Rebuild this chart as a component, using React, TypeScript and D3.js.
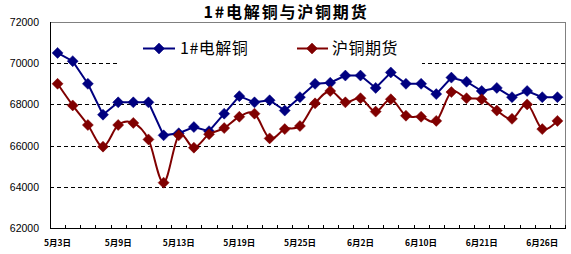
import React from "react";
import * as d3 from "d3";

const categories: string[] = [
  "5月3日", "5月4日", "5月5日", "5月8日", "5月9日", "5月10日", "5月11日", "5月12日",
  "5月13日", "5月15日", "5月16日", "5月17日", "5月19日", "5月22日", "5月23日", "5月24日",
  "5月25日", "5月26日", "5月31日", "6月1日", "6月2日", "6月5日", "6月6日", "6月7日",
  "6月10日", "6月13日", "6月14日", "6月15日", "6月21日", "6月22日", "6月23日", "6月24日",
  "6月26日", "6月27日",
];
const tickLabelIdx: number[] = [0, 4, 8, 12, 16, 20, 24, 28, 32];

const spotCopper: number[] = [
  70500, 70100, 69000, 67500, 68100, 68100, 68100, 66500, 66600, 66900,
  66700, 67550, 68400, 68100, 68200, 67700, 68350, 69000, 69050, 69400,
  69400, 68800, 69550, 69000, 69000, 68500, 69300, 69100, 68650, 68800,
  68350, 68650, 68350, 68350,
];
const futuresCopper: number[] = [
  69000, 67950, 67000, 65950, 67000, 67100, 66300, 64200, 66500, 65900,
  66550, 66850, 67400, 67550, 66350, 66800, 66950, 68050, 68650, 68100,
  68300, 67650, 68250, 67450, 67400, 67200, 68600, 68300, 68250, 67700,
  67300, 68000, 66800, 67200,
];
const yTicks: number[] = [62000, 64000, 66000, 68000, 70000, 72000];
const seriesNames: string[] = ["1#电解铜", "沪铜期货"];

const W = 571, H = 254;
const L = 50, R = 565, T = 22, B = 228;
const BLUE = "#000080";
const RED = "#800000";

function Diamond({ x, y, color }: { x: number; y: number; color: string }) {
  const s = 5.5;
  return (
    <path d={`M${x},${y - s}L${x + s},${y}L${x},${y + s}L${x - s},${y}Z`} fill={color} stroke={color} strokeWidth={0.5} />
  );
}

export default function App() {
  const x = d3.scaleBand<number>().domain(d3.range(categories.length)).range([L, R]).padding(0);
  const y = d3.scaleLinear().domain([62000, 72000]).range([B, T]);
  const cx = (i: number) => (x(i) as number) + x.bandwidth() / 2;

  const lineBlue = d3.line<number>().x((_, i) => cx(i)).y((d) => y(d));
  const lineRed = d3.line<number>().x((_, i) => cx(i)).y((d) => y(d)).curve(d3.curveCardinal.tension(0));

  const legendBox = { x0: 117, x1: 422, y0: 32, y1: 67 };

  return (
    <svg width={W} height={H} style={{ position: "absolute", left: 0, top: 0, background: "#fff" }}
      fontFamily="'Liberation Sans', Arial, sans-serif">
      <rect x={0} y={0} width={W} height={H} fill="#fff" />
      {/* title */}
      <text x={286} y={18} textAnchor="middle" fontSize={16} fontWeight="bold" letterSpacing={1.8}
        fontFamily="'Noto Sans CJK SC', sans-serif">1#电解铜与沪铜期货</text>

      {/* gridlines */}
      {yTicks.filter((t) => t > 62000 && t < 72000).map((t) => (
        <line key={t} x1={L} x2={R} y1={Math.round(y(t)) + 0.5} y2={Math.round(y(t)) + 0.5}
          stroke="#000" strokeWidth={1} strokeDasharray="4,3" />
      ))}

      {/* plot border top/right */}
      <line x1={L} x2={R} y1={T + 0.5} y2={T + 0.5} stroke="#808080" strokeWidth={1} />
      <line x1={R + 0.5} x2={R + 0.5} y1={T} y2={B} stroke="#808080" strokeWidth={1} />

      {/* legend box (hides gridline) */}
      <rect x={legendBox.x0} y={legendBox.y0} width={legendBox.x1 - legendBox.x0} height={legendBox.y1 - legendBox.y0} fill="#fff" />

      {/* axes */}
      <line x1={L + 0.5} x2={L + 0.5} y1={T} y2={B + 0.5} stroke="#000" strokeWidth={1} />
      <line x1={L} x2={R + 1} y1={B + 0.5} y2={B + 0.5} stroke="#000" strokeWidth={1} />
      {d3.range(categories.length + 1).map((k) => {
        const xx = Math.round(L + k * x.bandwidth()) + 0.5;
        return <line key={k} x1={xx} x2={xx} y1={B - 3} y2={B} stroke="#000" strokeWidth={1} />;
      })}

      {/* y labels */}
      {yTicks.map((t) => (
        <text key={t} x={39} y={y(t) + 4} textAnchor="end" fontSize={10.5} fill="#000">{t}</text>
      ))}

      {/* x labels */}
      {tickLabelIdx.map((i) => (
        <text key={i} x={cx(i)} y={246} textAnchor="middle" fontSize={8.5} fontWeight="bold"
          fontFamily="'Noto Sans CJK SC', sans-serif">{categories[i]}</text>
      ))}

      {/* series */}
      <path d={lineBlue(spotCopper) || ""} fill="none" stroke={BLUE} strokeWidth={2} />
      {spotCopper.map((v, i) => <Diamond key={"b" + i} x={cx(i)} y={y(v)} color={BLUE} />)}
      <path d={lineRed(futuresCopper) || ""} fill="none" stroke={RED} strokeWidth={2} />
      {futuresCopper.map((v, i) => <Diamond key={"r" + i} x={cx(i)} y={y(v)} color={RED} />)}

      {/* legend */}
      <line x1={143} x2={175} y1={48.5} y2={48.5} stroke={BLUE} strokeWidth={2} />
      <Diamond x={159} y={48.5} color={BLUE} />
      <text x={180} y={54} fontSize={16} letterSpacing={0.5} fontFamily="'Noto Sans CJK SC', sans-serif">{seriesNames[0]}</text>
      <line x1={297} x2={328} y1={48.5} y2={48.5} stroke={RED} strokeWidth={2} />
      <Diamond x={312} y={48.5} color={RED} />
      <text x={332} y={54} fontSize={16} letterSpacing={0.5} fontFamily="'Noto Sans CJK SC', sans-serif">{seriesNames[1]}</text>
    </svg>
  );
}
